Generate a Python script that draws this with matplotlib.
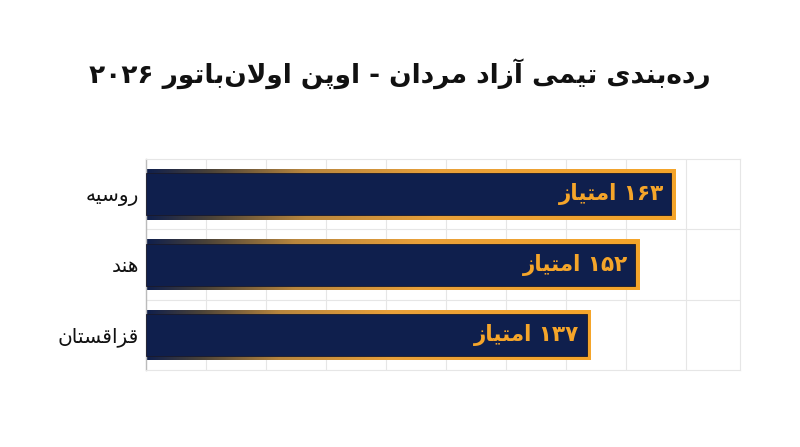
import re
import numpy as np
import matplotlib
matplotlib.use("Agg")
import matplotlib.pyplot as plt
from matplotlib.colors import LinearSegmentedColormap

# data
title = "رده\u200cبندی تیمی آزاد مردان - اوپن اولان\u200cباتور ۲۰۲۶"
teams = ["روسیه", "هند", "قزاقستان"]
points = [163, 152, 137]
point_labels = ["۱۶۳ امتیاز", "۱۵۲ امتیاز", "۱۳۷ امتیاز"]

NAVY = "#0f1f4d"
GOLD = "#f5a52a"

# matplotlib has no arabic shaping, so do a small one here
# forms: isolated, final, initial, medial
FORMS = {
    "ا": ("\uFE8D", "\uFE8E", None, None),
    "آ": ("\uFE81", "\uFE82", None, None),
    "د": ("\uFEA9", "\uFEAA", None, None),
    "ر": ("\uFEAD", "\uFEAE", None, None),
    "ز": ("\uFEAF", "\uFEB0", None, None),
    "و": ("\uFEED", "\uFEEE", None, None),
    "ب": ("\uFE8F", "\uFE90", "\uFE91", "\uFE92"),
    "پ": ("\uFB56", "\uFB57", "\uFB58", "\uFB59"),
    "ت": ("\uFE95", "\uFE96", "\uFE97", "\uFE98"),
    "س": ("\uFEB1", "\uFEB2", "\uFEB3", "\uFEB4"),
    "ق": ("\uFED5", "\uFED6", "\uFED7", "\uFED8"),
    "ل": ("\uFEDD", "\uFEDE", "\uFEDF", "\uFEE0"),
    "م": ("\uFEE1", "\uFEE2", "\uFEE3", "\uFEE4"),
    "ن": ("\uFEE5", "\uFEE6", "\uFEE7", "\uFEE8"),
    "ه": ("\uFEE9", "\uFEEA", "\uFEEB", "\uFEEC"),
    "ی": ("\uFEEF", "\uFEF0", "\uFEF3", "\uFEF4"),
}
LAM_ALEF = {"ا": ("\uFEFB", "\uFEFC"), "آ": ("\uFEF5", "\uFEF6")}


def dual(c):
    return c in FORMS and FORMS[c][2] is not None


def shape(text):
    out = []
    i = 0
    n = len(text)
    while i < n:
        c = text[i]
        if c not in FORMS:
            if c != "\u200c":
                out.append(c)
            i += 1
            continue
        prev = text[i - 1] if i > 0 else ""
        joins_prev = dual(prev)
        if c == "ل" and i + 1 < n and text[i + 1] in LAM_ALEF:
            out.append(LAM_ALEF[text[i + 1]][1 if joins_prev else 0])
            i += 2
            continue
        nxt = text[i + 1] if i + 1 < n else ""
        joins_next = dual(c) and nxt in FORMS
        iso, fin, ini, med = FORMS[c]
        if joins_prev and joins_next:
            out.append(med)
        elif joins_prev:
            out.append(fin)
        elif joins_next:
            out.append(ini)
        else:
            out.append(iso)
        i += 1
    # right to left, but keep digit runs in order
    parts = re.findall(r"[0-9\u06F0-\u06F9]+|[^0-9\u06F0-\u06F9]+", "".join(out))
    parts = [p if re.match(r"[0-9\u06F0-\u06F9]", p) else p[::-1] for p in parts]
    return "".join(parts[::-1])


plt.rcParams["font.family"] = ["DejaVu Sans"]

fig = plt.figure(figsize=(8, 4.47), dpi=100)
ax = fig.add_axes([0.1825, 0.172, 0.7425, 0.472])

y = np.arange(len(teams))
xmax = 183
ax.set_xlim(0, xmax)
ax.set_ylim(len(teams) - 0.5, -0.5)

# light grid
for gx in np.arange(0, xmax, 18.5):
    ax.axvline(gx, color="#e6e6e6", lw=0.8, zorder=0)
for gy in np.arange(0.5, len(teams) - 0.5, 1):
    ax.axhline(gy, color="#e6e6e6", lw=0.8, zorder=0)

border_cmap = LinearSegmentedColormap.from_list(
    "border", [(0, NAVY), (0.12, "#4a4238"), (0.3, "#b8863e"), (0.55, "#e8a03a"), (1, GOLD)]
)
grad = np.linspace(0, 1, 256).reshape(1, -1)

outer_h = 0.72
inner_h = 0.60
for yi, v, lab in zip(y, points, point_labels):
    outer = ax.barh(yi, v, height=outer_h, color="none", lw=0, zorder=2)[0]
    im = ax.imshow(grad, cmap=border_cmap, aspect="auto", zorder=2,
                   extent=(0, v, yi + outer_h / 2, yi - outer_h / 2))
    im.set_clip_path(outer)
    ax.barh(yi, v - 1.2, left=0, height=inner_h, color=NAVY,
            edgecolor="#1a1a2a", lw=0.6, zorder=3)
    ax.text(v - 3.5, yi, shape(lab), ha="right", va="center", color=GOLD,
            fontsize=15.5, fontweight="bold", zorder=4)

ax.set_xlim(0, xmax)
ax.set_ylim(len(teams) - 0.5, -0.5)
ax.set_yticks(y)
ax.set_yticklabels([shape(t) for t in teams], fontsize=14.5, color="#111111")
ax.tick_params(axis="y", length=0, pad=5)
ax.set_xticks([])
for side in ["top", "right", "bottom"]:
    ax.spines[side].set_color("#e6e6e6")
    ax.spines[side].set_linewidth(0.8)
ax.spines["left"].set_color("#bbbbbb")
ax.spines["left"].set_linewidth(1.0)

fig.text(0.5, 0.835, shape(title), ha="center", va="center",
         fontsize=19, fontweight="bold", color="#111111")

fig.savefig("out.png", dpi=100, facecolor="white")
